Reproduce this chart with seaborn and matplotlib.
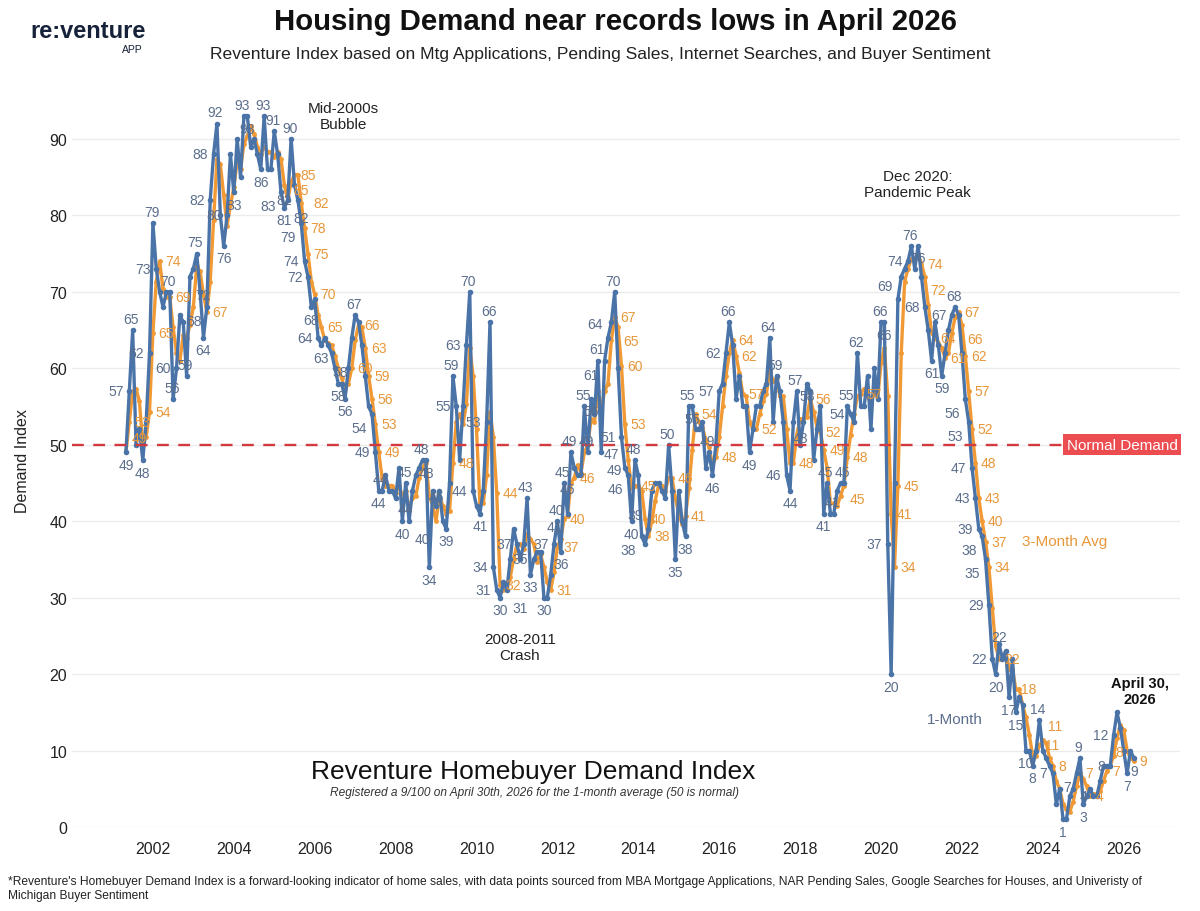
import pandas as pd
import seaborn as sns
import matplotlib.pyplot as plt
import matplotlib.transforms as mtransforms

# monthly 1-month index, May 2001 -> Apr 2026
start_month = '2001-05'
demand_1m = [
    49, 57, 65, 50, 52, 48, 53, 62,                      # 2001 (May-Dec)
    79, 73, 70, 68, 70, 70, 56, 60, 67, 66, 59, 72,      # 2002
    73, 75, 70, 64, 68, 82, 88, 92, 80, 76, 80, 88,      # 2003
    83, 90, 85, 93, 93, 89, 90, 88, 86, 93, 86, 86,      # 2004
    91, 88, 83, 81, 82, 90, 84, 82, 79, 74, 72, 68,      # 2005
    69, 64, 63, 64, 63, 62, 60, 58, 58, 56, 60, 64,      # 2006
    67, 66, 63, 59, 55, 54, 49, 44, 44, 46, 44, 44,      # 2007
    43, 47, 40, 45, 40, 44, 46, 47, 48, 48, 34, 44,      # 2008
    42, 44, 40, 39, 45, 59, 55, 48, 55, 63, 70, 44,      # 2009
    42, 41, 44, 53, 66, 34, 31, 30, 32, 31, 35, 39,      # 2010
    37, 35, 37, 43, 33, 35, 36, 36, 30, 30, 33, 37,      # 2011
    40, 36, 45, 41, 49, 47, 46, 46, 55, 49, 56, 54,      # 2012
    61, 49, 61, 64, 66, 70, 60, 51, 47, 46, 40, 48,      # 2013
    46, 38, 37, 39, 44, 45, 45, 44, 43, 50, 44, 35,      # 2014
    44, 40, 38, 55, 55, 52, 52, 53, 47, 49, 46, 50,      # 2015
    57, 58, 62, 66, 63, 56, 59, 55, 55, 49, 52, 55,      # 2016
    55, 57, 58, 64, 53, 59, 57, 53, 46, 44, 53, 57,      # 2017
    50, 53, 58, 57, 48, 52, 55, 41, 45, 41, 41, 44,      # 2018
    45, 45, 55, 54, 53, 62, 55, 55, 59, 52, 60, 56,      # 2019
    66, 66, 37, 20, 45, 69, 72, 73, 74, 76, 73, 76,      # 2020
    72, 68, 65, 61, 66, 63, 59, 62, 65, 67, 68, 67,      # 2021
    62, 56, 53, 47, 43, 39, 38, 35, 29, 22, 20, 24,      # 2022
    22, 23, 17, 22, 15, 17, 16, 10, 10, 8, 10, 14,       # 2023
    10, 9, 8, 7, 3, 5, 1, 1, 4, 5, 7, 9,                 # 2024
    3, 4, 5, 4, 4, 6, 8, 8, 8, 12, 15, 13,               # 2025
    10, 7, 10, 9,                                        # 2026 (Jan-Apr)
]

year_ticks = list(range(2002, 2027, 2))

blue_label_months = [
    '2001-05', '2001-06', '2001-07', '2001-10', '2001-12',
    '2002-01', '2002-02', '2002-06', '2002-07', '2002-08', '2002-11', '2002-12',
    '2003-02', '2003-04', '2003-05', '2003-06', '2003-07', '2003-08', '2003-10', '2003-11',
    '2004-01', '2004-04', '2004-05', '2004-09', '2004-10',
    '2005-01', '2005-03', '2005-04', '2005-05', '2005-06', '2005-08', '2005-09',
    '2005-10', '2005-11', '2005-12', '2006-02', '2006-03', '2006-08', '2006-09', '2006-10',
    '2007-01', '2007-06', '2007-07', '2007-08', '2007-09', '2007-12',
    '2008-03', '2008-04', '2008-05', '2008-09', '2008-10', '2008-11',
    '2009-04', '2009-05', '2009-06', '2009-07', '2009-10', '2009-11', '2009-12',
    '2010-02', '2010-04', '2010-05', '2010-06', '2010-07', '2010-08', '2010-10',
    '2011-01', '2011-04', '2011-05', '2011-06', '2011-09', '2011-12',
    '2012-01', '2012-02', '2012-03', '2012-04', '2012-05', '2012-08', '2012-09', '2012-10', '2012-11',
    '2013-01', '2013-02', '2013-03', '2013-04', '2013-06', '2013-08', '2013-09', '2013-10', '2013-11', '2013-12',
    '2014-02', '2014-04', '2014-10', '2014-12',
    '2015-03', '2015-04', '2015-05', '2015-10', '2015-11',
    '2016-01', '2016-03', '2016-04', '2016-10',
    '2017-04', '2017-06', '2017-09', '2017-10', '2017-12',
    '2018-03', '2018-05', '2018-08', '2018-09', '2018-11',
    '2019-02', '2019-03', '2019-04', '2019-06',
    '2020-01', '2020-02', '2020-03', '2020-04', '2020-06', '2020-09', '2020-10', '2020-12',
    '2021-02', '2021-04', '2021-07', '2021-10', '2021-11',
    '2022-02', '2022-03', '2022-04', '2022-05', '2022-06', '2022-07', '2022-08',
    '2022-09', '2022-10', '2022-11',
    '2023-03', '2023-04', '2023-05', '2023-08', '2023-10', '2023-12',
    '2024-04', '2024-07', '2024-11', '2024-12', '2025-01', '2025-04',
    '2025-09', '2025-10', '2026-02', '2026-04',
]

orange_label_months = [
    '2001-05', '2001-06', '2001-12', '2002-01', '2002-03', '2002-06', '2003-05',
    '2005-07', '2005-08', '2005-09', '2005-10', '2005-11', '2006-01', '2006-03',
    '2006-12', '2007-02', '2007-04', '2007-05', '2007-06', '2007-07', '2007-08',
    '2009-06', '2010-07', '2010-08', '2011-11', '2012-01', '2012-03', '2012-06',
    '2013-06', '2013-07', '2013-08', '2013-09', '2013-12', '2014-03', '2014-04',
    '2014-11', '2015-03', '2015-06', '2015-12', '2016-05', '2016-06', '2016-08', '2016-12',
    '2017-11', '2018-04', '2018-07', '2018-08', '2019-02', '2019-03', '2019-07',
    '2020-04', '2020-05', '2020-06', '2021-01', '2021-02', '2021-05', '2021-08',
    '2021-12', '2022-01', '2022-02', '2022-03', '2022-04', '2022-05', '2022-06',
    '2022-07', '2022-08', '2022-09', '2022-12', '2023-05', '2023-12', '2024-01',
    '2024-04', '2024-12', '2025-03', '2025-08', '2025-09', '2026-04',
]

BLUE = '#4a73a8'
ORANGE = '#f19a35'
BLUE_TXT = '#5b6e8c'
ORANGE_TXT = '#e8973a'

months = pd.date_range(start_month, periods=len(demand_1m), freq='MS')
df = pd.DataFrame({'month': months, 'one_month': demand_1m})
df['three_month'] = df['one_month'].rolling(3, min_periods=1).mean()
df['t'] = df['month'].dt.year + (df['month'].dt.month - 1) / 12
df['key'] = df['month'].dt.strftime('%Y-%m')

sns.set_theme(style='white')
plt.rcParams['font.family'] = ['Liberation Sans', 'DejaVu Sans']

fig = plt.figure(figsize=(12, 9.12), dpi=100)
ax = fig.add_axes([0.06, 0.0921, 0.9233, 0.8048])

sns.lineplot(data=df, x='t', y='three_month', color=ORANGE, lw=2.4, marker='o',
             markersize=3.5, markeredgewidth=0, ax=ax, zorder=2)
sns.lineplot(data=df, x='t', y='one_month', color=BLUE, lw=2.4, marker='o',
             markersize=4, markeredgewidth=0, ax=ax, zorder=3)

ax.axhline(50, color='#d33a40', ls=(0, (5, 4)), lw=1.7, zorder=4)

ax.set_xlim(2000.0, 2027.39)
ax.set_ylim(0, 96)
ax.set_xticks(year_ticks)
ax.set_xticklabels([str(y) for y in year_ticks])
ax.set_yticks(range(0, 100, 10))
ax.tick_params(axis='both', labelsize=11.5, length=0, colors='#222222')
ax.tick_params(axis='x', pad=10)
ax.yaxis.grid(True, color='#ececec', lw=1)
ax.xaxis.grid(False)
for s in ax.spines.values():
    s.set_visible(False)
ax.set_xlabel('')
ax.set_ylabel('Demand Index', fontsize=11.5, color='#222222', labelpad=14)

# value labels: try a few spots around each point and keep the first free one
fig.canvas.draw()
renderer = fig.canvas.get_renderer()
placed = []

label_jobs = []
vals = df['one_month'].tolist()
for key in blue_label_months:
    i = df.index[df['key'] == key][0]
    v = vals[i]
    prev_v = vals[i - 1] if i > 0 else v
    next_v = vals[i + 1] if i < len(vals) - 1 else v
    left = ((-4, 0), 'right', 'center')
    above = ((-1, 3), 'center', 'bottom')
    below = ((0, -4), 'center', 'top')
    up_left = ((-4, 5), 'right', 'bottom')
    down_left = ((-4, -5), 'right', 'top')
    extra = [((-4, 11), 'right', 'bottom'), ((-4, -11), 'right', 'top'),
             ((-9, 0), 'right', 'center'), ((4, -8), 'left', 'top')]
    if v >= prev_v and v >= next_v:
        cands = [above, left, up_left, below] + extra
    elif v <= prev_v and v <= next_v:
        cands = [below, left, down_left, above] + extra
    else:
        cands = [left, up_left, down_left, below] + extra
    label_jobs.append((i, v, BLUE_TXT, cands))

for key in orange_label_months:
    i = df.index[df['key'] == key][0]
    v = df['three_month'][i]
    cands = [((4, 0), 'left', 'center'), ((4, 5), 'left', 'bottom'),
             ((4, -5), 'left', 'top'), ((2, -6), 'center', 'top'),
             ((4, 11), 'left', 'bottom'), ((4, -11), 'left', 'top'),
             ((9, 0), 'left', 'center')]
    label_jobs.append((i, v, ORANGE_TXT, cands))

label_jobs.sort(key=lambda j: j[0])
for i, v, col, cands in label_jobs:
    best = None
    for off, ha, va in cands:
        ann = ax.annotate(f'{v:.0f}', (df['t'][i], v), xytext=off, textcoords='offset points',
                          ha=ha, va=va, fontsize=10, color=col, zorder=5)
        bb = ann.get_window_extent(renderer)
        hits = sum(bb.overlaps(p) for p in placed)
        if best is None or hits < best[0]:
            if best is not None:
                best[1].remove()
            best = (hits, ann, bb)
        else:
            ann.remove()
        if hits == 0:
            break
    placed.append(best[2])

trans = mtransforms.blended_transform_factory(ax.transAxes, ax.transData)
ax.text(0.998, 50, 'Normal Demand', transform=trans, ha='right', va='center',
        color='white', fontsize=11, zorder=6,
        bbox=dict(facecolor='#ec4d50', edgecolor='none', pad=2.5))

# annotations
ax.text(2006.70, 93.0, 'Mid-2000s\nBubble', ha='center', va='center', fontsize=11, color='#222222')
ax.text(2011.07, 23.5, '2008-2011\nCrash', ha='center', va='center', fontsize=11, color='#222222')
ax.text(2020.91, 84.1, 'Dec 2020:\nPandemic Peak', ha='center', va='center', fontsize=11, color='#222222')
ax.text(2023.48, 37.4, '3-Month Avg', ha='left', va='center', fontsize=11, color=ORANGE_TXT)
ax.text(2021.83, 14.1, '1-Month', ha='center', va='center', fontsize=11, color=BLUE_TXT)
ax.text(2026.40, 17.8, 'April 30,\n2026', ha='center', va='center', fontsize=10.5,
        fontweight='bold', color='#111111')

fig.text(533 / 1200, 1 - 772 / 912, 'Reventure Homebuyer Demand Index', ha='center', va='center',
         fontsize=19, color='#111111')
fig.text(535 / 1200, 1 - 793 / 912,
         'Registered a 9/100 on April 30th, 2026 for the 1-month average (50 is normal)',
         ha='center', va='center', fontsize=8.6, style='italic', color='#333333')

fig.text(616 / 1200, 1 - 22 / 912, 'Housing Demand near records lows in April 2026',
         ha='center', va='center', fontsize=21.2, fontweight='bold', color='#111111')
fig.text(600 / 1200, 1 - 55 / 912,
         'Reventure Index based on Mtg Applications, Pending Sales, Internet Searches, and Buyer Sentiment',
         ha='center', va='center', fontsize=12.6, color='#222222')

fig.text(30 / 1200, 1 - 32 / 912, 're:venture', ha='left', va='center', fontsize=17,
         fontweight='bold', color='#16213a')
fig.text(143 / 1200, 1 - 50 / 912, 'APP', ha='right', va='center', fontsize=7.5, color='#16213a')

fig.text(8 / 1200, 1 - 876 / 912,
         "*Reventure's Homebuyer Demand Index is a forward-looking indicator of home sales, with data points "
         "sourced from MBA Mortgage Applications, NAR Pending Sales, Google Searches for Houses, and Univeristy of\n"
         "Michigan Buyer Sentiment",
         ha='left', va='top', fontsize=8.65, color='#222222', linespacing=1.25)

plt.savefig('out.png', dpi=100)
